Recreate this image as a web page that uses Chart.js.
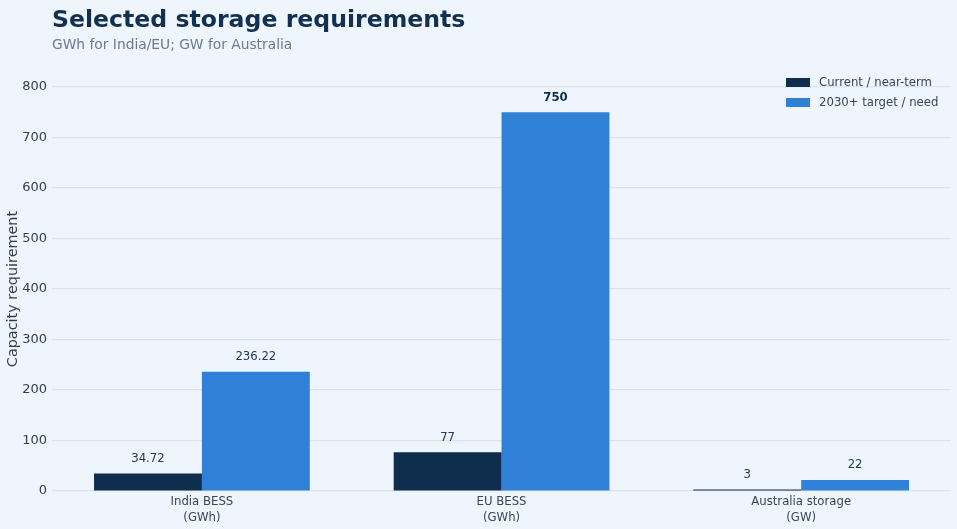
<!DOCTYPE html>
<html><head><meta charset="utf-8">
<script src="https://cdn.jsdelivr.net/npm/chart.js@4/dist/chart.umd.min.js"></script>
<style>
html,body{margin:0;padding:0;background:#eef5fc;}
#wrap{position:relative;width:957px;height:529px;}
canvas{display:block;}
</style></head>
<body><div id="wrap"><canvas id="c" width="957" height="529"></canvas></div>
<script>
const categories = [["India BESS","(GWh)"],["EU BESS","(GWh)"],["Australia storage","(GW)"]];
const currentValues = [34.72, 77, 3];
const targetValues = [236.22, 750, 22];
const valueLabels1 = ["34.72","77","3"];
const valueLabels2 = ["236.22","750","22"];
const seriesNames = ["Current / near-term","2030+ target / need"];
const colors = ["#0f2d4d","#2f80d6"];
const titleText = "Selected storage requirements";
const subtitleText = "GWh for India/EU; GW for Australia";

const COND = "'DejaVu Sans Condensed','DejaVu Sans',sans-serif";

const overlay = {
  id:'overlay',
  afterDatasetsDraw(chart){
    const ctx = chart.ctx;
    ctx.save();
    const lbls=[valueLabels1,valueLabels2];
    chart.data.datasets.forEach((ds,di)=>{
      const meta = chart.getDatasetMeta(di);
      meta.data.forEach((bar,i)=>{
        const bold = lbls[di][i]==="750";
        ctx.font = (bold?"bold ":"")+"13px "+COND;
        ctx.fillStyle = bold ? "#0f2d4d" : "#22395a";
        ctx.textAlign="center"; ctx.textBaseline="middle";
        ctx.fillText(lbls[di][i], bar.x, bar.y-15);
      });
    });
    ctx.restore();
  },
  afterDraw(chart){
    const ctx=chart.ctx;
    ctx.save();
    ctx.textAlign="left"; ctx.textBaseline="alphabetic";
    ctx.fillStyle="#12304f";
    ctx.font="bold 23.6px 'DejaVu Sans',sans-serif";
    ctx.fillText(titleText,52,27);
    ctx.fillStyle="#6b7b8c";
    ctx.font="13.8px 'DejaVu Sans',sans-serif";
    ctx.fillText(subtitleText,52,49);
    seriesNames.forEach((n,i)=>{
      const y=78+i*20;
      ctx.fillStyle=colors[i];
      ctx.fillRect(786,y,24,9);
      ctx.fillStyle="#3a4656";
      ctx.font="13px "+COND;
      ctx.textBaseline="middle";
      ctx.fillText(n,819,y+5);
    });
    ctx.restore();
  }
};

new Chart(document.getElementById('c'),{
  type:'bar',
  data:{
    labels:categories,
    datasets:[
      {label:seriesNames[0],data:currentValues,backgroundColor:colors[0],categoryPercentage:0.72,barPercentage:1.0},
      {label:seriesNames[1],data:targetValues,backgroundColor:colors[1],categoryPercentage:0.72,barPercentage:1.0}
    ]
  },
  options:{
    responsive:false,animation:false,
    layout:{padding:{left:5,right:6,top:87,bottom:0}},
    plugins:{legend:{display:false},title:{display:false},tooltip:{enabled:false}},
    scales:{
      x:{grid:{display:false,drawTicks:false,tickLength:0},border:{display:false},
         ticks:{color:"#3a4656",font:{family:COND,size:13,lineHeight:1.23},padding:3,maxRotation:0}},
      y:{min:0,max:800,
         grid:{color:"#dbe4ee",lineWidth:1.2,drawTicks:false,tickLength:0},border:{display:false},
         ticks:{stepSize:100,color:"#333e4c",font:{family:"'DejaVu Sans',sans-serif",size:13},padding:5},
         title:{display:true,text:"Capacity requirement",color:"#333e4c",font:{family:"'DejaVu Sans',sans-serif",size:14.4},padding:{top:0,bottom:-5}}}
    }
  },
  plugins:[overlay]
});
</script></body></html>
